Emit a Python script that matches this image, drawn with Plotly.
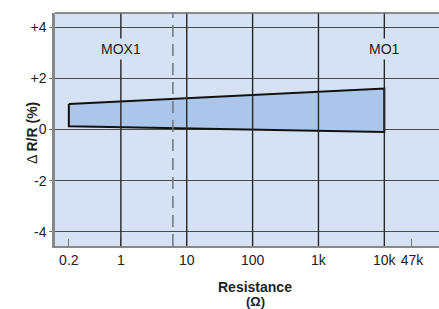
import plotly.graph_objects as go

# Tick labels and their positions on the chart's (schematic, decade-based) resistance scale
res_labels = ["0.2", "1", "10", "100", "1k", "10k", "47k"]
res_pos = [-0.79, 0, 1, 2, 3, 4, 4.42]
grid_labels = ["1", "10", "100", "1k", "10k"]

# Delta R/R band (%), from 0.2 ohm to 10k
band_x_labels = ["0.2", "10k"]
band_upper = [1.0, 1.6]
band_lower = [0.13, -0.1]

y_ticks = [4, 2, 0, -2, -4]
y_text = ["+4", "+2", "0", "-2", "-4"]

mox1_limit = 0.79   # dashed boundary (~6 ohm)

pos = dict(zip(res_labels, res_pos))
bx = [pos[l] for l in band_x_labels]

BG = "#d5e2f4"
BAND = "#abc6e9"
FONT = "Liberation Sans, Arial, Helvetica, sans-serif"
TXT = "#222222"

fig = go.Figure()
poly_x = [bx[0], bx[1], bx[1], bx[0], bx[0]]
poly_y = [band_upper[0], band_upper[1], band_lower[1], band_lower[0], band_upper[0]]
fig.add_trace(go.Scatter(x=poly_x, y=poly_y, mode="lines", fill="toself",
                         fillcolor=BAND, line=dict(color="#111111", width=2),
                         hoverinfo="skip", showlegend=False))

shapes = []
for g in grid_labels:
    shapes.append(dict(type="line", xref="x", yref="paper", x0=pos[g], x1=pos[g], y0=0, y1=1,
                       line=dict(color="#262626", width=1.4), layer="above"))
shapes.append(dict(type="line", xref="x", yref="paper", x0=mox1_limit, x1=mox1_limit, y0=0, y1=1,
                   line=dict(color="#6f7480", width=1.5, dash="12px,7px"), layer="above"))
# top border
shapes.append(dict(type="line", xref="paper", yref="paper", x0=0, x1=1, y0=1, y1=1,
                   line=dict(color="#6a6a6a", width=1.5), layer="above"))

plot_top, plot_bot = 13, 246
def py(px):
    return (plot_bot - px) / (plot_bot - plot_top)

annotations = [
    dict(text="MOX1", x=pos["1"], y=py(38), xref="x", yref="paper", showarrow=False,
         font=dict(size=14, color=TXT, family=FONT), bgcolor=BG, borderpad=2),
    dict(text="MO1", x=pos["10k"], y=py(38), xref="x", yref="paper", showarrow=False,
         font=dict(size=14, color=TXT, family=FONT), bgcolor=BG, borderpad=2),
    dict(text="Δ <b>R/R (%)</b>", x=0, xref="paper", y=py(133), yref="paper", xshift=-33,
         textangle=-90, showarrow=False, font=dict(size=14, color=TXT, family=FONT)),
    dict(text="<b>Resistance</b>", x=0.522, xref="paper", y=0, yref="paper",
         yshift=-41, yanchor="middle", showarrow=False,
         font=dict(size=14, color=TXT, family=FONT)),
    dict(text="<b>(Ω)</b>", x=0.522, xref="paper", y=0, yref="paper",
         yshift=-55, yanchor="middle", showarrow=False,
         font=dict(size=13, color=TXT, family=FONT)),
]

fig.update_layout(
    width=439, height=309,
    margin=dict(l=55, r=0, t=13, b=63, autoexpand=False),
    paper_bgcolor="white", plot_bgcolor=BG,
    shapes=shapes, annotations=annotations,
    font=dict(family=FONT, size=14, color=TXT),
    xaxis=dict(range=[-1.0, 4.83], tickvals=res_pos, ticktext=res_labels,
               showgrid=False, zeroline=False, ticks="inside", ticklen=7,
               tickcolor="#777", tickwidth=1.2, showline=True, linecolor="#888",
               linewidth=2, fixedrange=True, automargin=False,
               tickfont=dict(size=14, color=TXT, family=FONT)),
    yaxis=dict(range=[-4.55, 4.55], tickvals=y_ticks, ticktext=y_text,
               showgrid=True, gridcolor="#4a4a4a", gridwidth=1.2, zeroline=False,
               ticks="outside", ticklen=3, tickcolor="#777", showline=True,
               linecolor="#888", linewidth=2.5, layer="above traces", fixedrange=True,
               automargin=False, tickfont=dict(size=14, color=TXT, family=FONT)),
)
fig.write_html("out.html", config={"displayModeBar": False},
               post_script="document.body.style.margin='0';document.body.style.overflow='hidden';")
